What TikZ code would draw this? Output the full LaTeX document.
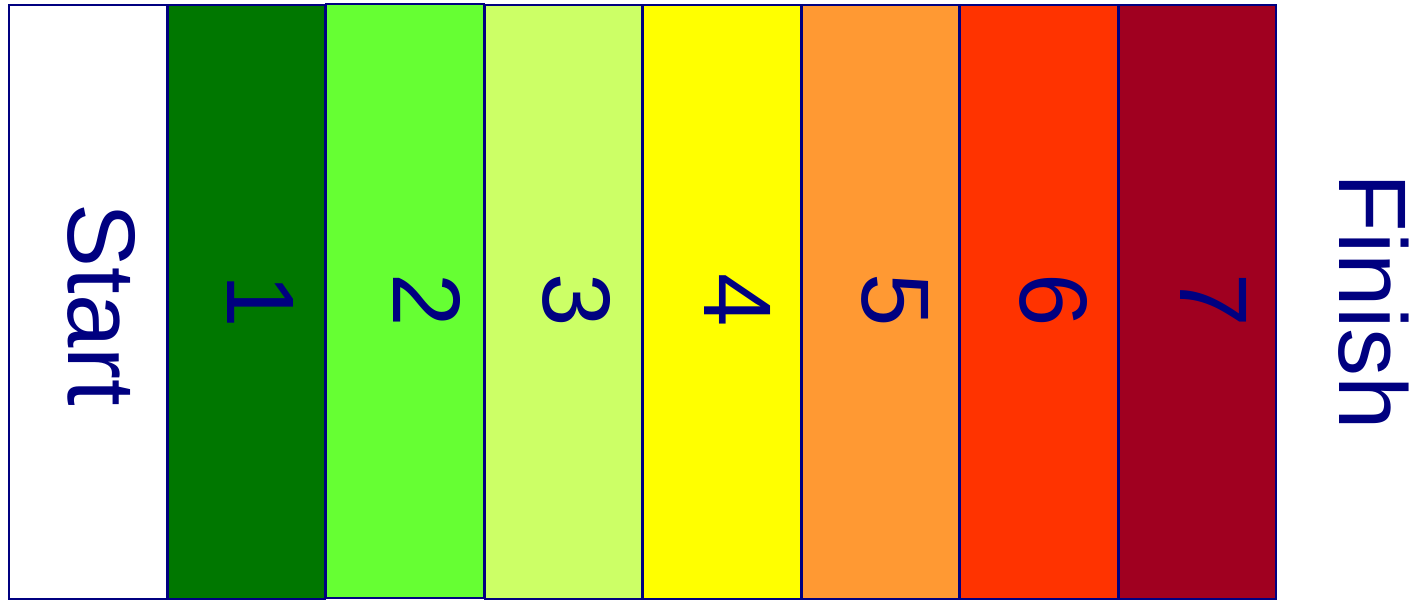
\documentclass[tikz,border=0pt]{standalone}
\usepackage{fontspec}
\setmainfont{Liberation Sans}
\definecolor{navyc}{HTML}{000080}
\definecolor{c1}{HTML}{007700}
\definecolor{c2}{HTML}{66FF33}
\definecolor{c3}{HTML}{CCFF66}
\definecolor{c4}{HTML}{FFFF00}
\definecolor{c5}{HTML}{FF9933}
\definecolor{c6}{HTML}{FF3300}
\definecolor{c7}{HTML}{A00020}
\tikzset{
  band/.style={draw=navyc, line width=2pt, rectangle, inner sep=0pt, outer sep=0pt,
    minimum width=157.5pt, minimum height=594pt},
  lbl/.style={text=navyc, rotate=-90, anchor=base, inner sep=0pt,
    font=\fontsize{96}{96}\selectfont}
}
\begin{document}
\begin{tikzpicture}[x=1pt,y=-1pt]
\useasboundingbox (0,0) rectangle (1416,600);
\fill[white] (0,0) rectangle (1416,600);
\node[band, fill=white] (b0) at (87.75,302) {};
\node[band, fill=c1] (b1) at (246.25,302) {};
\node[band, fill=c2, minimum height=594pt] (b2) at (404.75,301) {};
\node[band, fill=c3] (b3) at (563.25,302) {};
\node[band, fill=c4] (b4) at (721.75,302) {};
\node[band, fill=c5] (b5) at (880.25,302) {};
\node[band, fill=c6] (b6) at (1038.75,302) {};
\node[band, fill=c7] (b7) at (1197.25,302) {};
\node[lbl] (t0) at (68,305) {Start};
\node[lbl] (t1) at (227,301) {1};
\node[lbl] (t2) at (393,300) {2};
\node[lbl] (t3) at (543,300) {3};
\node[lbl] (t4) at (704,300) {4};
\node[lbl] (t5) at (862,300) {5};
\node[lbl] (t6) at (1020,300) {6};
\node[lbl] (t7) at (1180,300) {7};
\node[lbl] (fin) at (1339,302) {Finish};
\end{tikzpicture}
\end{document}
